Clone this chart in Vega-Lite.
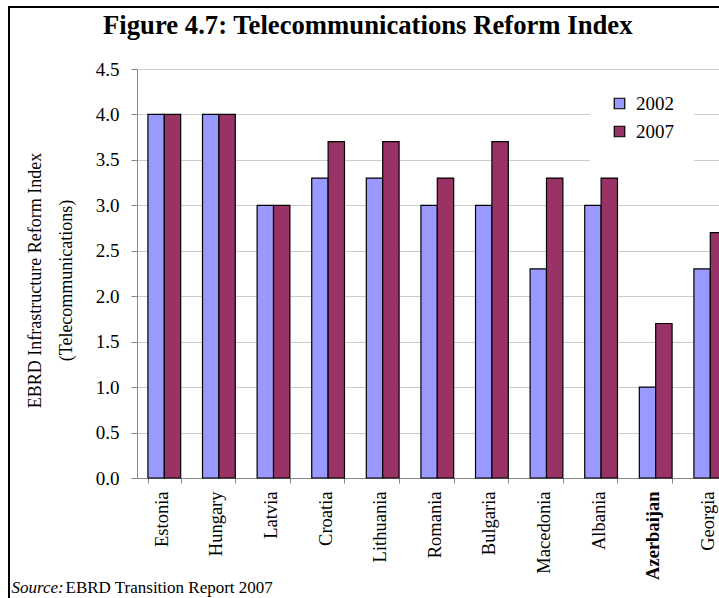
{
  "$schema": "https://vega.github.io/schema/vega-lite/v6.json",
  "autosize": {"type": "none"},
  "padding": {"left": 9, "top": 7, "right": -20, "bottom": -20},
  "width": 730,
  "height": 611,
  "background": "white",
  "config": {
    "view": {"stroke": "black", "strokeWidth": 2},
    "font": "Liberation Serif",
    "axis": {"labelFont": "Liberation Serif", "titleFont": "Liberation Serif", "labelColor": "black", "titleColor": "black"},
    "legend": {"labelFont": "Liberation Serif"}
  },
  "title": {
    "text": "Figure 4.7: Telecommunications Reform Index",
    "font": "Liberation Serif",
    "fontSize": 26.7,
    "fontWeight": "bold",
    "color": "black",
    "anchor": "start",
    "offset": 0,
    "dx": 103,
    "dy": 33
  },
  "data": {
    "values": [
      {"Country": "Estonia", "Year": "2002", "Value": 4.0},
      {"Country": "Estonia", "Year": "2007", "Value": 4.0},
      {"Country": "Hungary", "Year": "2002", "Value": 4.0},
      {"Country": "Hungary", "Year": "2007", "Value": 4.0},
      {"Country": "Latvia", "Year": "2002", "Value": 3.0},
      {"Country": "Latvia", "Year": "2007", "Value": 3.0},
      {"Country": "Croatia", "Year": "2002", "Value": 3.3},
      {"Country": "Croatia", "Year": "2007", "Value": 3.7},
      {"Country": "Lithuania", "Year": "2002", "Value": 3.3},
      {"Country": "Lithuania", "Year": "2007", "Value": 3.7},
      {"Country": "Romania", "Year": "2002", "Value": 3.0},
      {"Country": "Romania", "Year": "2007", "Value": 3.3},
      {"Country": "Bulgaria", "Year": "2002", "Value": 3.0},
      {"Country": "Bulgaria", "Year": "2007", "Value": 3.7},
      {"Country": "Macedonia", "Year": "2002", "Value": 2.3},
      {"Country": "Macedonia", "Year": "2007", "Value": 3.3},
      {"Country": "Albania", "Year": "2002", "Value": 3.0},
      {"Country": "Albania", "Year": "2007", "Value": 3.3},
      {"Country": "Azerbaijan", "Year": "2002", "Value": 1.0},
      {"Country": "Azerbaijan", "Year": "2007", "Value": 1.7},
      {"Country": "Georgia", "Year": "2002", "Value": 2.3},
      {"Country": "Georgia", "Year": "2007", "Value": 2.7}
    ]
  },
  "encoding": {
    "y": {
      "field": "Value",
      "type": "quantitative",
      "scale": {"domain": [0, 4.5], "range": [471, 62], "nice": false, "zero": true},
      "axis": {
        "offset": -128,
        "values": [0, 0.5, 1, 1.5, 2, 2.5, 3, 3.5, 4, 4.5],
        "format": ".1f",
        "labelFont": "Liberation Serif",
        "labelFontSize": 19,
        "labelPadding": 12,
        "tickSize": 6,
        "tickColor": "#888888",
        "domainColor": "#888888",
        "grid": true,
        "gridColor": "#cccccc",
        "title": ["EBRD Infrastructure Reform Index", "(Telecommunications)"],
        "titleFont": "Liberation Serif",
        "titleFontSize": 18,
        "titleFontWeight": "normal",
        "titleLineHeight": 31,
        "titleAngle": 270,
        "titleAlign": "center",
        "titleBaseline": "middle",
        "titleX": -102,
        "titleY": 273
      }
    }
  },
  "layer": [
    {
      "mark": {"type": "bar", "stroke": "black", "strokeWidth": 1.2, "clip": true},
      "encoding": {
        "x": {
          "field": "Country",
          "type": "nominal",
          "sort": ["Estonia", "Hungary", "Latvia", "Croatia", "Lithuania", "Romania", "Bulgaria", "Macedonia", "Albania", "Azerbaijan", "Georgia"],
          "scale": {"range": [128, 728.6], "paddingInner": 0.4, "paddingOuter": 0.2},
          "axis": {
            "orient": "bottom",
            "offset": -140,
            "labelAngle": 270,
            "labelAlign": "right",
            "labelBaseline": "middle",
            "labelFont": "Liberation Serif",
            "labelFontSize": 18.5,
            "labelPadding": 8,
            "labelOffset": -3,
            "labelFontWeight": {"condition": {"test": "datum.value === 'Azerbaijan'", "value": "bold"}, "value": "normal"},
            "tickBand": "extent",
            "tickSize": 5,
            "tickColor": "#888888",
            "domainColor": "#888888",
            "grid": false,
            "title": "Source:",
            "titleFont": "Liberation Serif",
            "titleFontSize": 17,
            "titleFontWeight": "normal",
            "titleFontStyle": "italic",
            "titleAlign": "left",
            "titleBaseline": "alphabetic",
            "titleAnchor": "start",
            "titleX": 2,
            "titleY": 114
          }
        },
        "xOffset": {"field": "Year", "type": "nominal", "scale": {"paddingInner": 0, "paddingOuter": 0}},
        "color": {
          "field": "Year",
          "type": "nominal",
          "scale": {"domain": ["2002", "2007"], "range": ["#9999FF", "#993366"]},
          "legend": {
            "title": null,
            "orient": "none",
            "legendX": 581,
            "legendY": 67,
            "padding": 20,
            "fillColor": "white",
            "symbolType": "square",
            "symbolSize": 110,
            "symbolStrokeColor": "black",
            "symbolStrokeWidth": 1.2,
            "labelFont": "Liberation Serif",
            "labelFontSize": 19,
            "labelOffset": 7,
            "rowPadding": 8
          }
        }
      }
    },
    {
      "mark": {"type": "bar", "opacity": 0, "clip": true},
      "encoding": {
        "x": {
          "field": "Country",
          "type": "nominal",
          "sort": ["Estonia", "Hungary", "Latvia", "Croatia", "Lithuania", "Romania", "Bulgaria", "Macedonia", "Albania", "Azerbaijan", "Georgia"],
          "axis": {
            "orient": "bottom",
            "offset": -140,
            "labels": false,
            "ticks": false,
            "domain": false,
            "grid": false,
            "title": "EBRD Transition Report 2007",
            "titleFont": "Liberation Serif",
            "titleFontSize": 17,
            "titleFontWeight": "normal",
            "titleAlign": "left",
            "titleBaseline": "alphabetic",
            "titleAnchor": "start",
            "titleX": 56,
            "titleY": 114
          }
        }
      }
    }
  ],
  "resolve": {"axis": {"x": "independent"}}
}
